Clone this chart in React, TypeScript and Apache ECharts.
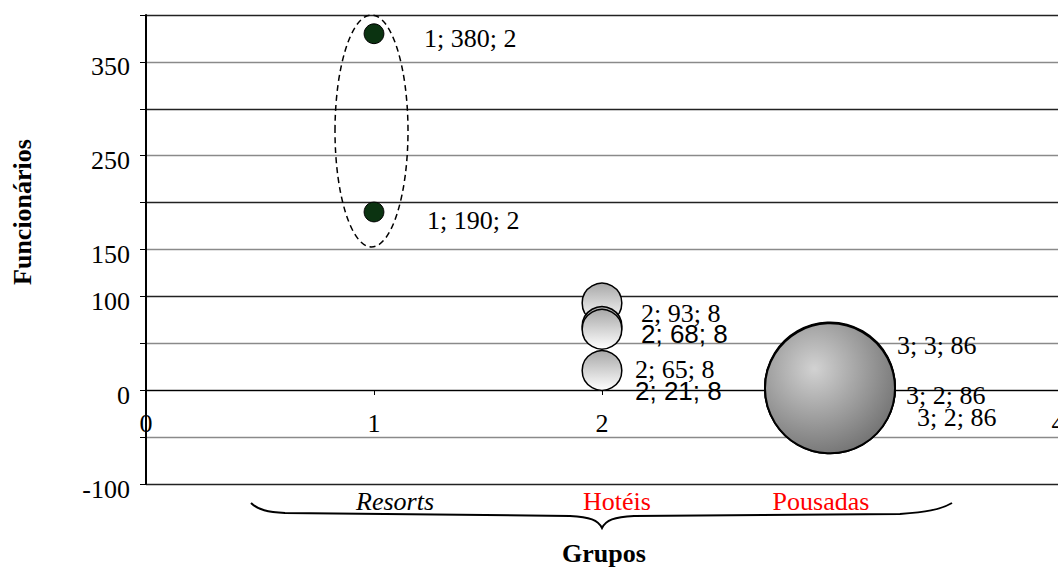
import React, { useEffect, useRef } from "react";
import * as echarts from "echarts";

// ---- data ----
const categories = ["Resorts", "Hotéis", "Pousadas"];
const resortsData = [
  [1, 380, 2],
  [1, 190, 2],
];
const hoteisData = [
  [2, 93, 8],
  [2, 68, 8],
  [2, 65, 8],
  [2, 21, 8],
];
const pousadasData = [
  [3, 3, 86],
  [3, 2, 86],
  [3, 2, 86],
];
const yTickLabels = [350, 250, 150, 100, 0, -100];
const xTickLabels = [0, 1, 2, 3, 4];

// ---- styling (label offsets, fonts) ----
const resortsLabelOffsets = [
  [50, 5],
  [53, 9],
];
const hoteisLabelOffsets = [
  [39, 11],
  [39, 8],
  [33, 40],
  [33, 20],
];
const hoteisLabelSans = [false, true, false, true];
const pousadasLabelOffsets = [
  [67, -42],
  [76, 7],
  [87, 29],
];

const SERIF = "'Liberation Serif', 'Times New Roman', serif";
const SANS = "'Liberation Sans', Arial, sans-serif";
const FS = 26;

const braceD =
  "M251,503 C258,510 268,512 285,513 L570,516 C590,517 598,520 602,528 C606,520 614,517 634,516 L900,514 C925,512 940,510 952,503";

const bubbleSize = (v: number[]) => 2 * 65 * Math.sqrt(v[2] / 86);
const fmt = (p: any) => `${p.value[0]}; ${p.value[1]}; ${p.value[2]}`;

function buildItems(data: number[][], offsets: number[][], sans?: boolean[]) {
  return data.map((d, i) => ({
    value: d,
    label: {
      offset: offsets[i],
      fontFamily: sans && sans[i] ? SANS : SERIF,
    },
  }));
}

let registered = false;

export default function App() {
  const ref = useRef<HTMLDivElement>(null);
  useEffect(() => {
    if (!ref.current) return;
    if (!registered) {
      echarts.graphic.registerShape("brace", echarts.graphic.extendPath(braceD, {}) as any);
      registered = true;
    }
    const chart = echarts.init(ref.current, undefined, { renderer: "svg" });
    const baseLabel = {
      show: true,
      position: "inside",
      align: "left",
      verticalAlign: "middle",
      color: "#000",
      fontSize: FS,
      fontFamily: SERIF,
      opacity: 1,
      formatter: fmt,
    };
    const catCenters = [395, 617, 821];
    const catColors = ["#000", "#ff0000", "#ff0000"];
    chart.setOption({
      animation: false,
      backgroundColor: "#fff",
      grid: {
        left: 146,
        right: 0,
        top: 15,
        bottom: 83,
        containLabel: false,
        outerBoundsMode: "none",
      },
      xAxis: {
        type: "value",
        min: 0,
        max: 4,
        interval: 1,
        offset: -94,
        axisLine: { show: true, onZero: false, lineStyle: { color: "#000", width: 1 } },
        axisTick: { show: true, length: 5, lineStyle: { color: "#000" } },
        axisLabel: {
          margin: 20,
          color: "#000",
          fontSize: FS,
          fontFamily: SERIF,
          showMaxLabel: true,
          showMinLabel: true,
          hideOverlap: false,
          formatter: (v: number) => (xTickLabels.includes(v) ? String(v) : ""),
        },
        splitLine: { show: false },
      },
      yAxis: {
        type: "value",
        min: -100,
        max: 400,
        interval: 50,
        axisLine: { show: true, onZero: false, lineStyle: { color: "#000", width: 2 } },
        axisTick: { show: true, length: 6, lineStyle: { color: "#000" } },
        axisLabel: {
          margin: 16,
          color: "#000",
          fontSize: FS,
          fontFamily: SERIF,
          verticalAlign: "top",
          lineHeight: 10,
          formatter: (v: number) => (yTickLabels.includes(v) ? String(v) : ""),
        },
        splitLine: { show: true, lineStyle: { color: ["#222", "#8a8a8a"], width: 1.4 } },
      },
      series: [
        {
          name: categories[0],
          type: "scatter",
          symbolSize: bubbleSize,
          itemStyle: { color: "#0b3311", borderColor: "#000", borderWidth: 1, opacity: 1 },
          label: baseLabel,
          data: buildItems(resortsData, resortsLabelOffsets),
        },
        {
          name: categories[1],
          type: "scatter",
          symbolSize: bubbleSize,
          itemStyle: {
            color: new echarts.graphic.LinearGradient(0, 0, 0, 1, [
              { offset: 0, color: "#a8a8a8" },
              { offset: 1, color: "#ffffff" },
            ]),
            borderColor: "#000",
            borderWidth: 1.5,
            opacity: 1,
          },
          label: baseLabel,
          data: buildItems(hoteisData, hoteisLabelOffsets, hoteisLabelSans),
        },
        {
          name: categories[2],
          type: "scatter",
          symbolSize: bubbleSize,
          itemStyle: {
            color: new echarts.graphic.RadialGradient(0.38, 0.35, 0.72, [
              { offset: 0, color: "#d2d2d2" },
              { offset: 1, color: "#707070" },
            ]),
            borderColor: "#000",
            borderWidth: 2,
            opacity: 1,
          },
          label: baseLabel,
          data: buildItems(pousadasData, pousadasLabelOffsets),
        },
      ],
      graphic: [
        {
          type: "ellipse",
          shape: { cx: 371.5, cy: 131, rx: 36.5, ry: 116 },
          style: { fill: "none", stroke: "#000", lineWidth: 1.5, lineDash: [6, 4] },
          z: 10,
        },
        {
          type: "brace",
          x: 0,
          y: 0,
          style: { fill: "none", stroke: "#000", lineWidth: 2 },
        },
        ...categories.map((c, i) => ({
          type: "text",
          x: catCenters[i],
          y: 501,
          style: {
            text: c,
            fill: catColors[i],
            font: `${i === 0 ? "italic " : ""}${FS}px ${SERIF}`,
            textAlign: "center",
            textVerticalAlign: "middle",
          },
        })),
        {
          type: "text",
          x: 604,
          y: 553,
          style: {
            text: "Grupos",
            fill: "#000",
            font: `bold ${FS}px ${SERIF}`,
            textAlign: "center",
            textVerticalAlign: "middle",
          },
        },
        {
          type: "text",
          x: 22,
          y: 212,
          rotation: Math.PI / 2,
          style: {
            text: "Funcionários",
            fill: "#000",
            font: `bold ${FS}px ${SERIF}`,
            textAlign: "center",
            textVerticalAlign: "middle",
          },
        },
      ],
    });
    return () => chart.dispose();
  }, []);
  return (
    <div
      ref={ref}
      style={{ position: "absolute", left: 0, top: 0, width: 1058, height: 567 }}
    />
  );
}
